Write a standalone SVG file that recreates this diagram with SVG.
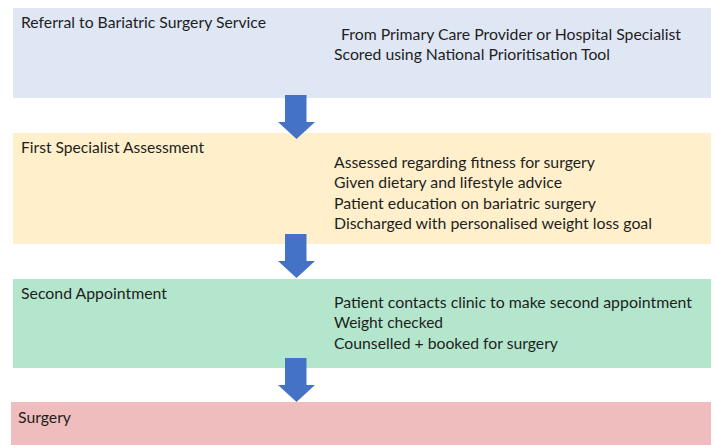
<svg xmlns="http://www.w3.org/2000/svg" width="715" height="445" viewBox="0 0 715 445">
  <style>
    .stage { stroke: none; }
    .title, .item { font-family: Lato, "Liberation Sans", sans-serif; font-size: 15px; fill: #1e1e1e; }
    .flow { fill: #4472c4; stroke: none; }
  </style>
  <defs>
    <!-- block arrow pointing down, tip at origin -->
    <path id="down-arrow" d="M -11.5 -44 H 10 V -17 H 18.5 L 0 0 L -18.5 -17 H -11.5 Z"/>
  </defs>
  <rect width="715" height="445" fill="#ffffff"/>

  <g id="referral">
    <rect class="stage" x="13" y="8" width="698" height="90" fill="#dfe6f4"/>
    <text class="title" x="21" y="27.5" textLength="245" lengthAdjust="spacingAndGlyphs">Referral to Bariatric Surgery Service</text>
    <text class="item" x="341" y="40" textLength="340" lengthAdjust="spacingAndGlyphs">From Primary Care Provider or Hospital Specialist</text>
    <text class="item" x="334" y="60" textLength="276" lengthAdjust="spacingAndGlyphs">Scored using National Prioritisation Tool</text>
  </g>

  <g id="first-assessment">
    <rect class="stage" x="13" y="133" width="698" height="111" fill="#fff0cb"/>
    <text class="title" x="21" y="152.5" textLength="183" lengthAdjust="spacingAndGlyphs">First Specialist Assessment</text>
    <text class="item" x="334" y="167.5" textLength="261" lengthAdjust="spacingAndGlyphs">Assessed regarding fitness for surgery</text>
    <text class="item" x="334" y="188" textLength="228" lengthAdjust="spacingAndGlyphs">Given dietary and lifestyle advice</text>
    <text class="item" x="334" y="208.5" textLength="262" lengthAdjust="spacingAndGlyphs">Patient education on bariatric surgery</text>
    <text class="item" x="334" y="229" textLength="318" lengthAdjust="spacingAndGlyphs">Discharged with personalised weight loss goal</text>
  </g>

  <g id="second-appointment">
    <rect class="stage" x="13" y="279" width="698" height="89" fill="#b4e6cd"/>
    <text class="title" x="21" y="298.5" textLength="146" lengthAdjust="spacingAndGlyphs">Second Appointment</text>
    <text class="item" x="334" y="307.5" textLength="358" lengthAdjust="spacingAndGlyphs">Patient contacts clinic to make second appointment</text>
    <text class="item" x="334" y="328" textLength="109" lengthAdjust="spacingAndGlyphs">Weight checked</text>
    <text class="item" x="334" y="348.5" textLength="224" lengthAdjust="spacingAndGlyphs">Counselled + booked for surgery</text>
  </g>

  <g id="surgery">
    <rect class="stage" x="11" y="402" width="700" height="43" fill="#efbdbd"/>
    <text class="title" x="18" y="423" textLength="53" lengthAdjust="spacingAndGlyphs">Surgery</text>
  </g>

  <g id="connectors" class="flow">
    <use href="#down-arrow" transform="translate(296.5 139)"/>
    <use href="#down-arrow" transform="translate(296.5 278)"/>
    <use href="#down-arrow" transform="translate(296.5 402)"/>
  </g>
</svg>
